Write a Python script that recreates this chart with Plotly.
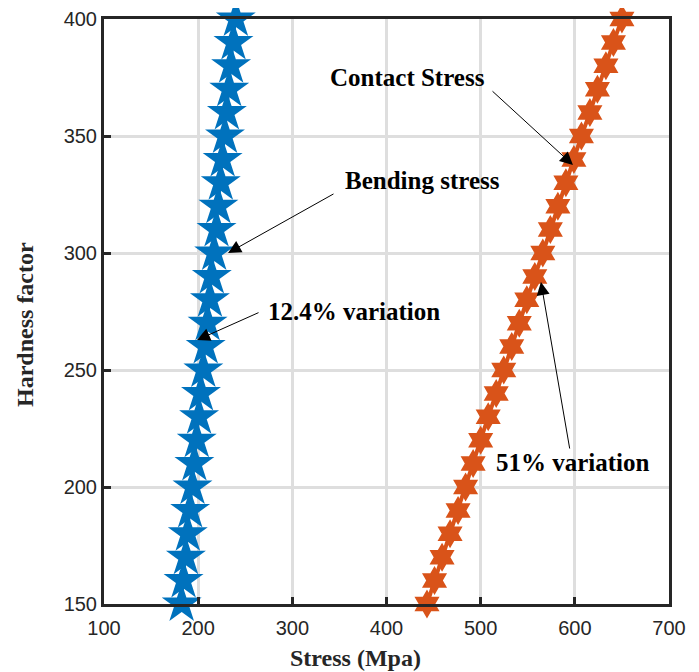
import plotly.graph_objects as go

hardness = [150, 160, 170, 180, 190, 200, 210, 220, 230, 240, 250, 260, 270,
            280, 290, 300, 310, 320, 330, 340, 350, 360, 370, 380, 390, 400]
bending_stress = [182.5, 184.5, 187, 189, 191.5, 194, 196, 198.5, 201, 203, 205.5,
                  208, 210, 212.5, 214.5, 217, 219.5, 221.5, 224, 226, 228.5,
                  230.5, 233, 235, 237.5, 240]
contact_stress = [443, 451, 459, 467.5, 476, 484, 492, 500, 508, 516.5, 524.5,
                  533, 541, 549, 557.5, 566, 574, 582, 590.5, 599, 607,
                  616, 624, 633, 641, 650]

x_ticks = [100, 200, 300, 400, 500, 600, 700]
y_ticks = [150, 200, 250, 300, 350, 400]

BLUE = "#0072BD"
ORANGE = "#D95319"
SERIF = "Liberation Serif, Times New Roman, serif"
SANS = "Liberation Sans, Arial, sans-serif"

fig = go.Figure()
fig.add_trace(go.Scatter(
    x=bending_stress, y=hardness, mode="lines+markers",
    line=dict(color=BLUE, width=2),
    marker=dict(symbol="star", size=30, color=BLUE, line=dict(width=0)),
    showlegend=False, cliponaxis=False))
fig.add_trace(go.Scatter(
    x=contact_stress, y=hardness, mode="lines+markers",
    line=dict(color=ORANGE, width=4),
    marker=dict(symbol="hexagram", size=22, color=ORANGE, line=dict(width=0)),
    showlegend=False, cliponaxis=False))

afont = dict(family=SERIF, size=25, color="black")
texts = [
    ("<b>Contact Stress</b>", 422.8, 375.2),
    ("<b>Bending stress</b>", 437.7, 330.8),
    ("<b>12.4% variation</b>", 365.5, 274.8),
    ("<b>51% variation</b>", 598.0, 210.3),
]
for t, x, y in texts:
    fig.add_annotation(x=x, y=y, text=t, showarrow=False, font=afont,
                       xref="x", yref="y")

arrows = [
    (598.0, 337.6, 511.0, 369.7),
    (231.7, 300.0, 345.3, 325.6),
    (198.8, 262.8, 265.7, 274.8),
    (564.0, 287.6, 594.8, 215.8),
]
for x, y, ax, ay in arrows:
    fig.add_annotation(x=x, y=y, ax=ax, ay=ay, xref="x", yref="y",
                       axref="x", ayref="y", text="", showarrow=True,
                       arrowhead=2, arrowsize=2.6, arrowwidth=1,
                       arrowcolor="black")

# axis titles (placed as in the reference, slightly off-centre)
tfont = dict(family=SERIF, size=24, color="#262626")
fig.add_annotation(text="<b>Stress (Mpa)</b>", xref="paper", yref="paper",
                   x=0.446, y=-0.0923, xanchor="center", yanchor="middle",
                   showarrow=False, font=tfont)
fig.add_annotation(text="<b>Hardness factor</b>", xref="paper", yref="paper",
                   x=-0.1398, y=0.477, xanchor="center", yanchor="middle",
                   textangle=-90, showarrow=False, font=tfont)

axis_common = dict(
    showline=True, linecolor="#262626", linewidth=3, mirror=True,
    ticks="inside", ticklen=7, tickwidth=3, tickcolor="#262626",
    showgrid=True, gridcolor="#dedede", gridwidth=3,
    zeroline=False,
    tickfont=dict(family=SANS, size=20, color="#262626"),
)

fig.update_xaxes(range=[100, 700], tickvals=x_ticks, ticklabelstandoff=4,
                 **axis_common)
fig.update_yaxes(range=[150, 400], tickvals=y_ticks, **axis_common)

fig.update_layout(
    width=699, height=672,
    margin=dict(l=96, r=38, t=11, b=76, autoexpand=False),
    plot_bgcolor="white", paper_bgcolor="white",
)

fig.write_html("out.html")
